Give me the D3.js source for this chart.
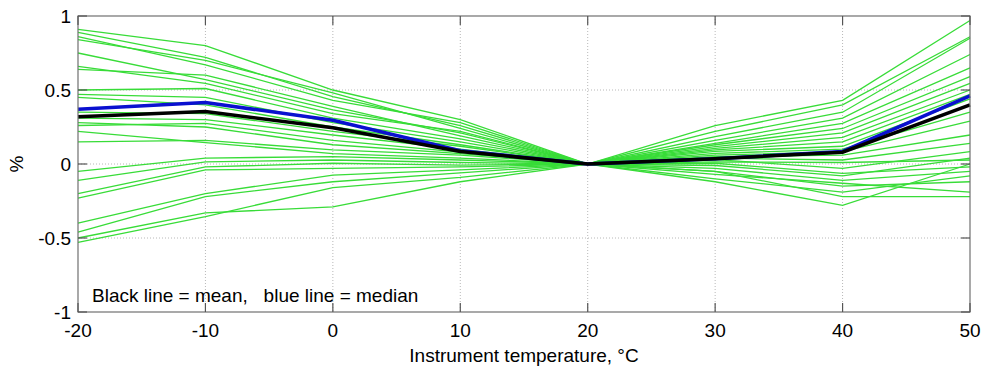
<!DOCTYPE html>
<html>
<head>
  <meta charset="UTF-8">
  <style>
    body { margin: 0; background: #fff; }
    svg text { font-family: "Liberation Sans", Arial, sans-serif; fill: #000; }
  </style>
</head>
<body>
<svg></svg>
<script src="https://cdnjs.cloudflare.com/ajax/libs/d3/7.8.5/d3.min.js"></script>
<script>
// instrument temperature points (deg C)
const temps = [-20, -10, 0, 10, 20, 30, 40, 50];

// individual instruments, % deviation at each temperature
const instruments = [
  [0.91, 0.80, 0.50, 0.30, 0, 0.26, 0.43, 0.97],
  [0.89, 0.72, 0.455, 0.26, 0, 0.22, 0.40, 0.86],
  [0.86, 0.67, 0.43, 0.28, 0, 0.185, 0.35, 0.85],
  [0.84, 0.70, 0.48, 0.24, 0, 0.16, 0.31, 0.74],
  [0.75, 0.57, 0.365, 0.21, 0, 0.14, 0.275, 0.65],
  [0.66, 0.545, 0.34, 0.22, 0, 0.13, 0.24, 0.59],
  [0.64, 0.60, 0.39, 0.19, 0, 0.117, 0.21, 0.545],
  [0.50, 0.51, 0.31, 0.17, 0, 0.105, 0.18, 0.50],
  [0.47, 0.45, 0.28, 0.15, 0, 0.095, 0.15, 0.47],
  [0.45, 0.40, 0.25, 0.13, 0, 0.085, 0.12, 0.44],
  [0.35, 0.34, 0.22, 0.12, 0, 0.072, 0.10, 0.35],
  [0.31, 0.30, 0.196, 0.10, 0, 0.06, 0.083, 0.29],
  [0.28, 0.25, 0.13, 0.07, 0, 0.05, 0.06, 0.196],
  [0.26, 0.275, 0.16, 0.08, 0, 0.04, 0.027, 0.14],
  [0.22, 0.145, 0.07, 0.04, 0, 0.03, -0.03, 0.083],
  [0.15, 0.16, 0.095, 0.06, 0, 0.015, 0.01, 0.027],
  [-0.05, 0.04, 0.05, 0.027, 0, 0.005, -0.063, -0.02],
  [-0.11, 0.015, 0.027, 0.01, 0, -0.01, -0.08, 0.04],
  [-0.20, -0.02, 0.005, -0.007, 0, -0.03, -0.11, -0.05],
  [-0.23, -0.04, -0.03, -0.02, 0, -0.05, -0.15, -0.12],
  [-0.40, -0.20, -0.075, -0.04, 0, -0.07, -0.13, -0.19],
  [-0.46, -0.22, -0.12, -0.06, 0, -0.10, -0.19, -0.08],
  [-0.53, -0.355, -0.16, -0.09, 0, -0.12, -0.28, 0.0],
  [-0.50, -0.33, -0.29, -0.12, 0, -0.05, -0.22, -0.22]
];

const meanLine   = [0.32, 0.355, 0.245, 0.085, 0, 0.035, 0.08, 0.40];
const medianLine = [0.37, 0.415, 0.295, 0.09, 0, 0.035, 0.085, 0.46];

const xTicks = [-20, -10, 0, 10, 20, 30, 40, 50];
const yTicks = [-1, -0.5, 0, 0.5, 1];
const yTickLabels = ["-1", "-0.5", "0", "0.5", "1"];
const gridY = [-0.5, 0, 0.5];

let width = 983, height = 369;
let margin = {top: 16, right: 13, bottom: 57, left: 78};

let svg = d3.select("svg")
    .attr("width", width)
    .attr("height", height);

let x = d3.scaleLinear().domain([-20, 50]).range([margin.left, width - margin.right]);
let y = d3.scaleLinear().domain([-1, 1]).range([height - margin.bottom, margin.top]);

// dotted grid
svg.append("g").selectAll("line")
    .data(xTicks.slice(1, -1))
    .enter().append("line")
    .attr("x1", d => x(d)).attr("x2", d => x(d))
    .attr("y1", y(1)).attr("y2", y(-1))
    .attr("stroke", "#b8b8b8").attr("stroke-dasharray", "1,2");

svg.append("g").selectAll("line")
    .data(gridY)
    .enter().append("line")
    .attr("x1", x(-20)).attr("x2", x(50))
    .attr("y1", d => y(d)).attr("y2", d => y(d))
    .attr("stroke", "#b8b8b8").attr("stroke-dasharray", "1,2");

let line = d3.line()
    .x((d, i) => x(temps[i]))
    .y(d => y(d));

// green instrument lines
svg.append("g").selectAll("path")
    .data(instruments)
    .enter().append("path")
    .attr("d", line)
    .attr("fill", "none")
    .attr("stroke", "#38dc38")
    .attr("stroke-width", 1.3);

svg.append("path").datum(medianLine)
    .attr("d", line).attr("fill", "none")
    .attr("stroke", "#0a10d0").attr("stroke-width", 3.5);

svg.append("path").datum(meanLine)
    .attr("d", line).attr("fill", "none")
    .attr("stroke", "#000").attr("stroke-width", 3.5);

// axes box
svg.append("rect")
    .attr("x", x(-20)).attr("y", y(1))
    .attr("width", x(50) - x(-20)).attr("height", y(-1) - y(1))
    .attr("fill", "none").attr("stroke", "#707070").attr("stroke-width", 1.2);

// inward ticks on all four sides
let tk = 9;
let ticks = svg.append("g").attr("stroke", "#555").attr("stroke-width", 1.2);
xTicks.forEach(t => {
  ticks.append("line").attr("x1", x(t)).attr("x2", x(t)).attr("y1", y(-1)).attr("y2", y(-1) - tk);
  ticks.append("line").attr("x1", x(t)).attr("x2", x(t)).attr("y1", y(1)).attr("y2", y(1) + tk);
});
yTicks.forEach(t => {
  ticks.append("line").attr("x1", x(-20)).attr("x2", x(-20) + tk).attr("y1", y(t)).attr("y2", y(t));
  ticks.append("line").attr("x1", x(50)).attr("x2", x(50) - tk).attr("y1", y(t)).attr("y2", y(t));
});

// tick labels
svg.append("g").selectAll("text")
    .data(yTicks)
    .enter().append("text")
    .attr("x", x(-20) - 7)
    .attr("y", d => y(d) + 7)
    .attr("text-anchor", "end")
    .style("font-size", "19px")
    .text((d, i) => yTickLabels[i]);

svg.append("g").selectAll("text")
    .data(xTicks)
    .enter().append("text")
    .attr("x", d => x(d))
    .attr("y", y(-1) + 25)
    .attr("text-anchor", "middle")
    .style("font-size", "19px")
    .text(d => d);

// axis titles
svg.append("text")
    .attr("x", (x(-20) + x(50)) / 2)
    .attr("y", 362)
    .attr("text-anchor", "middle")
    .style("font-size", "19px")
    .text("Instrument temperature, \u00b0C");

svg.append("text")
    .attr("transform", "translate(23," + y(0) + ") rotate(-90)")
    .attr("text-anchor", "middle")
    .style("font-size", "19px")
    .text("%");

svg.append("text")
    .attr("x", 92)
    .attr("y", 302)
    .style("font-size", "19px")
    .style("white-space", "pre")
    .text("Black line = mean,   blue line = median");
</script>
</body>
</html>
